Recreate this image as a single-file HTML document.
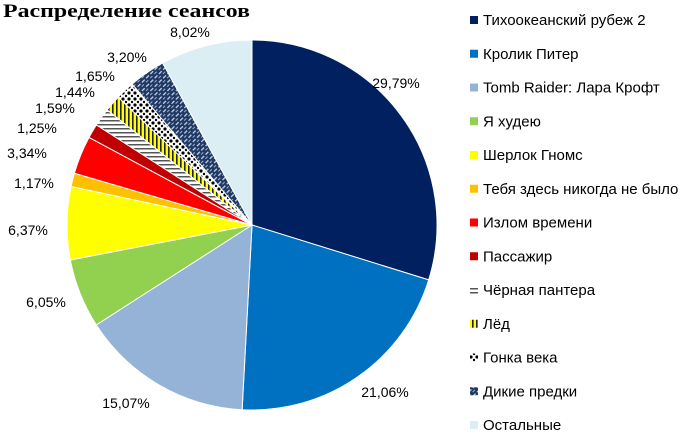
<!DOCTYPE html>
<html><head><meta charset="utf-8"><style>
body{margin:0;width:700px;height:443px;background:#fff;overflow:hidden;font-family:"Liberation Sans",sans-serif}
</style></head><body>
<svg id="s" width="700" height="443" xmlns="http://www.w3.org/2000/svg" font-family="Liberation Sans, sans-serif">
<defs>
<pattern id="pH" width="4" height="4" patternUnits="userSpaceOnUse"><rect width="4" height="4" fill="#fff"/><rect width="4" height="1.5" fill="#555"/></pattern>
<pattern id="pV" width="4" height="4" patternUnits="userSpaceOnUse"><rect width="4" height="4" fill="#ff0"/><rect width="1.6" height="4" fill="#222"/></pattern>
<pattern id="pD" width="6" height="6" patternUnits="userSpaceOnUse"><rect width="6" height="6" fill="#fff"/><circle cx="3" cy="3" r="1.6" fill="#000"/><circle cx="0" cy="0" r="1.2" fill="#000"/><circle cx="6" cy="0" r="1.2" fill="#000"/><circle cx="0" cy="6" r="1.2" fill="#000"/><circle cx="6" cy="6" r="1.2" fill="#000"/></pattern>
<pattern id="pW" width="6" height="6" patternUnits="userSpaceOnUse" patternTransform="rotate(-45)"><rect width="6" height="6" fill="#1f3864"/><rect y="2" width="4" height="1.3" fill="#c8d4e6"/><rect x="3" y="5" width="3" height="1" fill="#a0b0cc"/></pattern>
</defs>
<g id="pie"></g>
<text x="3" y="17" font-family="Liberation Serif, serif" font-weight="bold" font-size="19" textLength="247" lengthAdjust="spacingAndGlyphs">Распределение сеансов</text>
<g font-size="14" fill="#000" text-anchor="middle">
<text x="396" y="88">29,79%</text>
<text x="385" y="397">21,06%</text>
<text x="126" y="408">15,07%</text>
<text x="46" y="307">6,05%</text>
<text x="28" y="235">6,37%</text>
<text x="34" y="188">1,17%</text>
<text x="27" y="158">3,34%</text>
<text x="37" y="133">1,25%</text>
<text x="55" y="113">1,59%</text>
<text x="75" y="97">1,44%</text>
<text x="95" y="81">1,65%</text>
<text x="127" y="62">3,20%</text>
<text x="190" y="37">8,02%</text>
</g>
<g id="leg" font-size="15" fill="#000"></g>
</svg>
<script>
var d=[[29.79,"#002060","Тихоокеанский рубеж 2"],[21.06,"#0070c0","Кролик Питер"],[15.07,"#95b3d7","Tomb Raider: Лара Крофт"],[6.05,"#92d050","Я худею"],[6.37,"#ffff00","Шерлок Гномс"],[1.17,"#ffc000","Тебя здесь никогда не было"],[3.34,"#ff0000","Излом времени"],[1.25,"#c00000","Пассажир"],[1.59,"url(#pH)","Чёрная пантера"],[1.44,"url(#pV)","Лёд"],[1.65,"url(#pD)","Гонка века"],[3.20,"url(#pW)","Дикие предки"],[8.02,"#dbeef4","Остальные"]];
var cx=252,cy=225,r=185,a=0,tot=0;d.forEach(function(x){tot+=x[0]});
var ns="http://www.w3.org/2000/svg",g=document.getElementById("pie"),L=document.getElementById("leg");
d.forEach(function(x,i){var b=a+x[0]/tot*2*Math.PI;
var x1=cx+r*Math.sin(a),y1=cy-r*Math.cos(a),x2=cx+r*Math.sin(b),y2=cy-r*Math.cos(b);
var p=document.createElementNS(ns,"path");p.setAttribute("d","M"+cx+","+cy+"L"+x1+","+y1+"A"+r+","+r+" 0 "+((b-a)>Math.PI?1:0)+" 1 "+x2+","+y2+"Z");
p.setAttribute("fill",x[1]);p.setAttribute("stroke","#fff");p.setAttribute("stroke-width","1");g.appendChild(p);a=b;
var y=20+i*33.75;var q=document.createElementNS(ns,"rect");q.setAttribute("x",470);q.setAttribute("y",y-4);q.setAttribute("width",8);q.setAttribute("height",8);q.setAttribute("fill",x[1]);L.appendChild(q);
var t=document.createElementNS(ns,"text");t.setAttribute("x",483);t.setAttribute("y",y+5);t.textContent=x[2];L.appendChild(t);});
</script>
</body></html>
